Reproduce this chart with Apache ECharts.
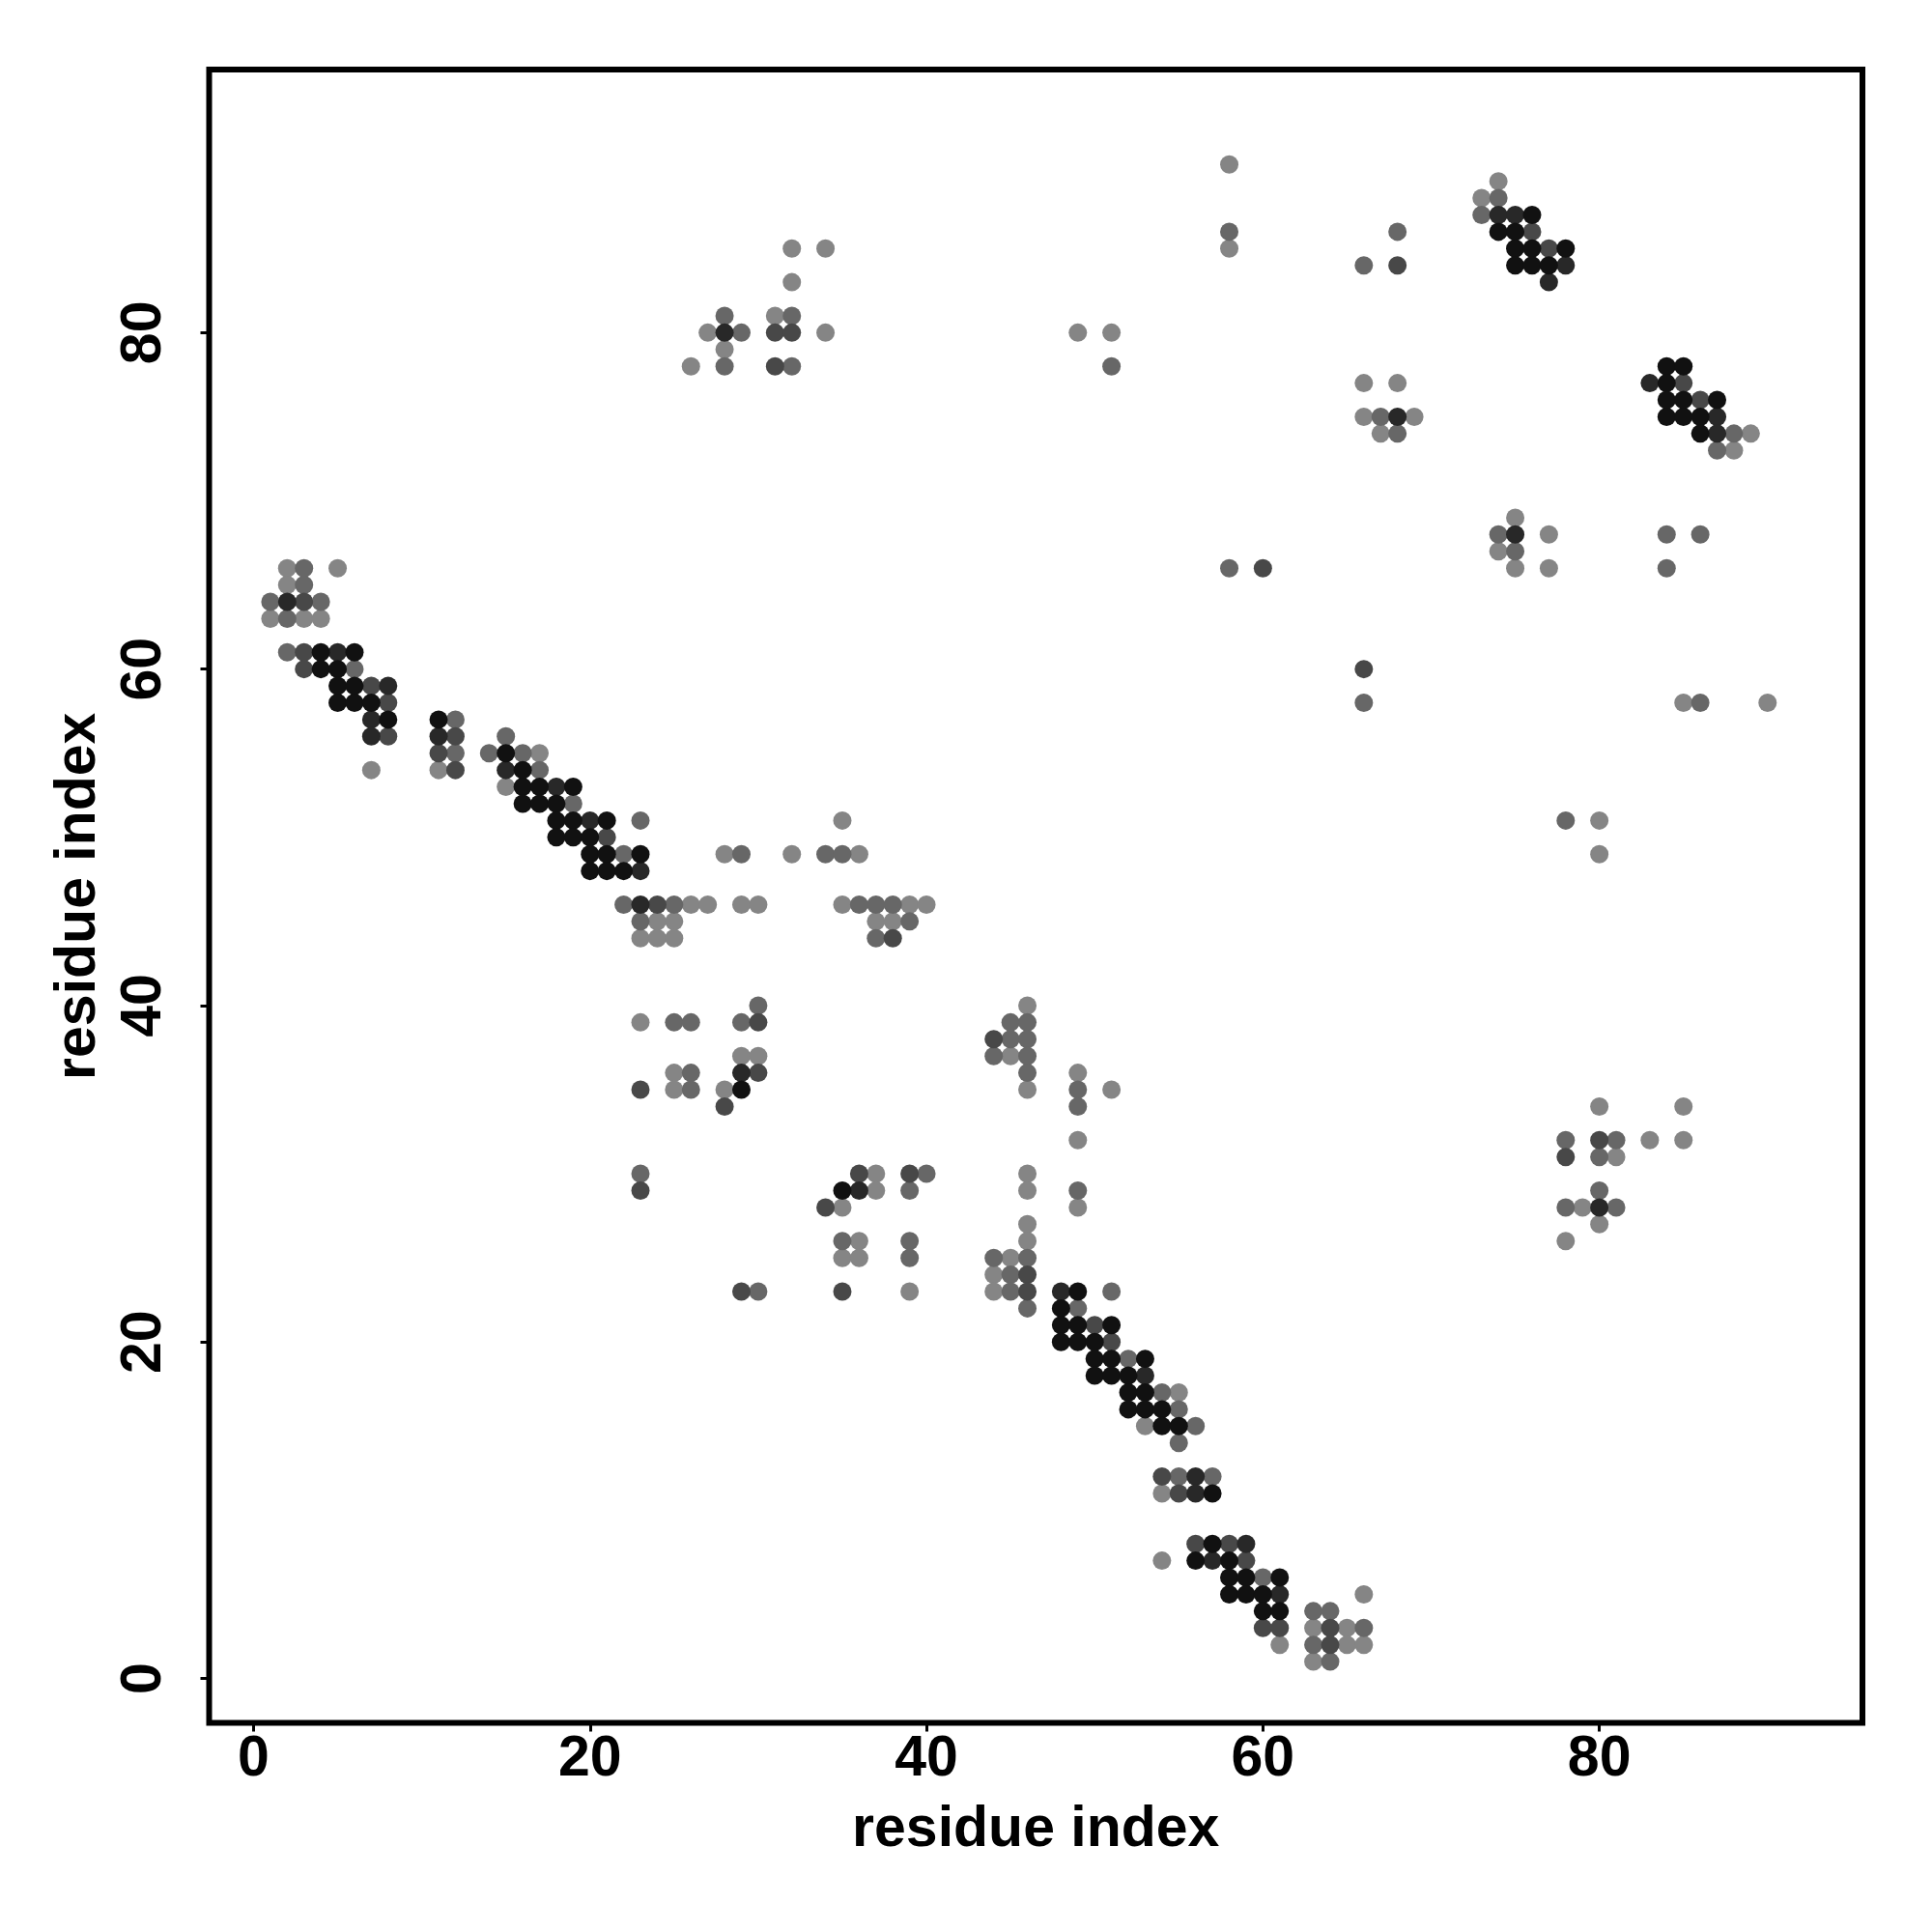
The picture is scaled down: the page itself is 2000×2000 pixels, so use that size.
<!DOCTYPE html>
<html>
<head>
<meta charset="utf-8">
<script src="https://cdn.jsdelivr.net/npm/echarts@6/dist/echarts.min.js"></script>
<style>
html,body{margin:0;padding:0;background:#fff;}
#chart{width:2000px;height:2000px;}
</style>
</head>
<body>
<div id="chart"></div>
<script>
// tick labels
const xTicks = [0, 20, 40, 60, 80];
const yTicks = [0, 20, 40, 60, 80];
const axisTitle = 'residue index';

// contacts [i, j] grouped by shade (light -> black)
const lightPts = [
  [2,66],[5,66],[2,65],[1,63],[3,63],[4,63],[7,54],[11,54],[17,55],[15,53],
  [35,51],[28,49],[32,49],[36,49],
  [26,46],[27,46],[29,46],[30,46],[35,46],[39,46],[40,46],
  [24,45],[25,45],[37,45],[38,45],
  [23,44],[24,44],[25,44],
  [23,39],[29,37],[30,37],[25,36],[25,35],[28,35],
  [37,30],[37,29],[35,28],[36,26],[35,25],[36,25],[39,23],
  [32,85],[34,85],[32,83],[31,81],[27,80],[34,80],[49,80],[51,80],[28,79],[26,78],
  [46,40],[45,37],[49,36],[46,35],[51,35],[49,32],[46,30],[46,29],[49,28],[46,27],[46,26],[45,25],[44,24],[44,23],
  [55,17],[53,15],[54,11],[54,7],[66,5],[63,3],[65,3],[61,2],[65,2],[66,2],[63,1],
  [58,90],[58,85],[66,77],[68,77],[66,75],[69,75],[67,74],
  [74,89],[73,88],[89,74],[88,73],[75,69],[77,68],[74,67],[75,66],[77,66],
  [85,58],[90,58],[80,51],[80,49],[80,34],[85,34],[83,32],[85,32],[81,31],[79,28],[80,27],[78,26]
];
const midPts = [
  [3,66],[3,65],[1,64],[4,64],[2,63],[2,61],[6,60],[12,57],[12,55],
  [15,56],[14,55],[16,55],[17,54],[19,52],[23,51],[22,49],
  [29,49],[34,49],[35,49],
  [22,46],[25,46],[36,46],[37,46],[38,46],
  [23,45],[39,45],[37,44],
  [30,40],[25,39],[26,39],[29,39],[26,36],[26,35],
  [23,30],[40,30],[39,29],[35,26],[39,26],[39,25],[30,23],
  [28,81],[32,81],[29,80],[28,78],[32,78],[51,78],
  [45,39],[46,39],[45,38],[46,38],[44,37],[46,37],[46,36],[49,35],[49,34],[49,29],
  [44,25],[46,25],[45,24],[45,23],[51,23],[46,22],[49,22],
  [52,19],[54,17],[55,16],[56,15],[55,14],[55,12],[57,12],
  [60,6],[63,4],[64,4],[66,3],[63,2],[64,1],
  [58,86],[68,86],[66,84],[67,75],[68,74],[58,66],[66,58],
  [74,88],[73,87],[88,74],[87,73],[74,68],[84,68],[86,68],[75,67],[84,66],
  [86,58],[78,51],[78,32],[81,32],[80,31],[80,29],[78,28],[81,28]
];
const darkPts = [
  [3,64],[3,61],[3,60],[7,59],[8,58],[8,56],[12,56],[11,55],[12,54],[21,50],
  [24,46],[38,44],[30,39],[30,36],[23,35],[28,34],[36,30],[39,30],[23,29],[34,28],[29,23],[35,23],
  [31,80],[32,80],[31,78],
  [44,38],[46,24],[46,23],[50,21],[51,20],
  [54,12],[55,11],
  [56,8],[58,8],[59,7],[60,3],[61,3],[64,3],[64,2],
  [68,84],[60,66],[66,60],
  [76,86],[77,85],[85,77],[86,76],
  [80,32],[78,31]
];
const veryDarkPts = [
  [2,64],[5,61],[8,59],[7,57],[7,56],[11,56],[15,54],[18,53],[20,51],[23,48],
  [23,46],[29,36],[36,29],[28,80],
  [48,23],[53,18],[56,12],[56,11],
  [59,8],[57,7],[61,5],
  [68,75],
  [74,87],[75,87],[78,84],[77,83],[83,77],[87,75],[87,74],
  [75,68],[80,28]
];
const blackPts = [
  [4,61],[6,61],[4,60],[5,60],[5,59],[6,59],[5,58],[6,58],[7,58],[8,57],[11,57],
  [15,55],[16,54],[16,53],[17,53],[19,53],[16,52],[17,52],[18,52],
  [18,51],[19,51],[21,51],[18,50],[19,50],[20,50],[20,49],[21,49],[23,49],[20,48],[21,48],[22,48],
  [29,35],[35,29],
  [49,23],[48,22],[48,21],[49,21],[51,21],[48,20],[49,20],[50,20],[50,19],[51,19],[53,19],
  [50,18],[51,18],[52,18],[52,17],[53,17],[52,16],[53,16],[54,16],[54,15],[55,15],
  [57,11],[57,8],[56,7],[58,7],[58,6],[59,6],[61,6],[58,5],[59,5],[60,5],[60,4],[61,4],
  [76,87],[74,86],[75,86],[75,85],[76,85],[78,85],[75,84],[76,84],[77,84],
  [84,78],[85,78],[84,77],[84,76],[85,76],[87,76],[84,75],[85,75],[86,75],[86,74]
];

const groups = [
  {data: lightPts, color: '#858585'},
  {data: midPts, color: '#676767'},
  {data: darkPts, color: '#484848'},
  {data: veryDarkPts, color: '#282828'},
  {data: blackPts, color: '#111111'}
];

const font = 'Liberation Sans, Arial, Helvetica, sans-serif';
const chart = echarts.init(document.getElementById('chart'), null, {renderer: 'canvas'});

function axisCommon(ticks) {
  return {
    type: 'value',
    min: -2.64,
    max: 95.64,
    splitLine: {show: false},
    axisLine: {show: false, onZero: false},
    axisTick: {show: true, customValues: ticks, length: 9, inside: false,
               lineStyle: {color: '#000', width: 3}},
    axisLabel: {show: true, customValues: ticks, fontSize: 59, fontWeight: 'bold',
                fontFamily: font, color: '#000'},
    name: axisTitle,
    nameLocation: 'middle',
    nameTextStyle: {fontSize: 59, fontWeight: 'bold', fontFamily: font, color: '#000'}
  };
}

const xAxis = axisCommon(xTicks);
xAxis.axisLabel.margin = 9;
xAxis.nameGap = 82;

const yAxis = axisCommon(yTicks);
yAxis.axisLabel.rotate = 90;
yAxis.axisLabel.margin = 37;
yAxis.nameRotate = 90;
yAxis.nameGap = 105;

chart.setOption({
  animation: false,
  backgroundColor: '#fff',
  grid: {
    left: 216.5, right: 72, top: 72, bottom: 216.5,
    show: true, borderColor: '#000', borderWidth: 6,
    backgroundColor: 'transparent',
    outerBoundsMode: 'none'
  },
  xAxis: xAxis,
  yAxis: yAxis,
  series: groups.map(g => ({
    type: 'scatter',
    data: g.data,
    symbol: 'circle',
    symbolSize: 19,
    silent: true,
    itemStyle: {color: g.color, opacity: 1}
  }))
});
</script>
</body>
</html>
